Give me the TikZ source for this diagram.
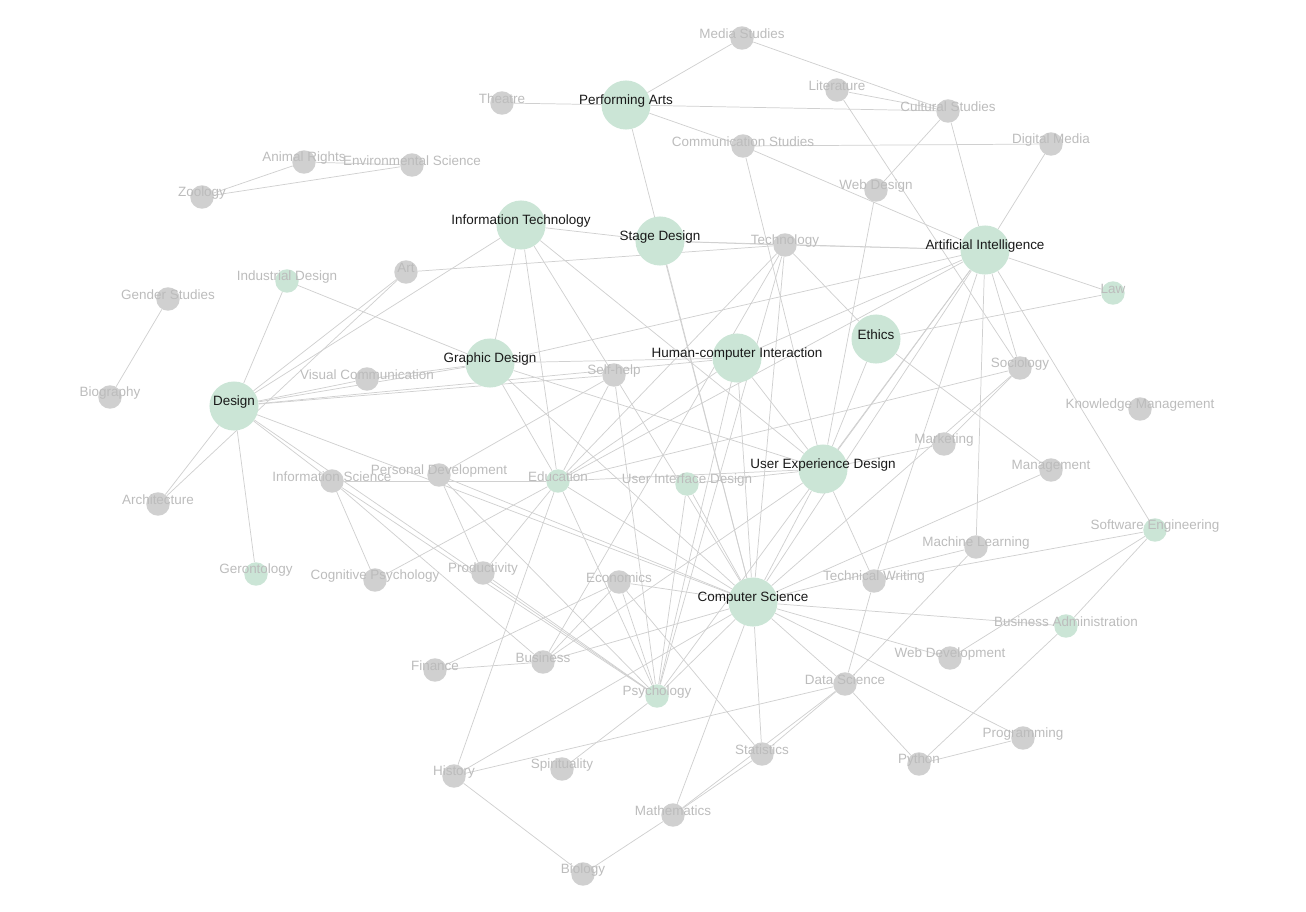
\documentclass[tikz,border=0pt]{standalone}
\usepackage{fontspec}
\setmainfont{Liberation Sans}
\definecolor{ngreen}{RGB}{203,229,214}
\definecolor{ngray}{RGB}{208,208,208}
\definecolor{labgray}{RGB}{188,188,188}
\definecolor{edgegray}{RGB}{208,208,208}
\pgfdeclarelayer{edgelayer}
\pgfsetlayers{edgelayer,main}
\tikzset{
  bign/.style={circle, fill=ngreen, minimum size=36.8pt, inner sep=0pt},
  smg/.style={circle, fill=ngreen, minimum size=17.6pt, inner sep=0pt},
  smy/.style={circle, fill=ngray, minimum size=17.6pt, inner sep=0pt},
  blab/.style={font=\fontsize{10.1}{12}\selectfont, text=black!90, inner sep=0pt},
  glab/.style={font=\fontsize{10.1}{12}\selectfont, text=labgray, inner sep=0pt},
  edge/.style={draw=edgegray, line width=0.55pt}
}
\begin{document}
\begin{tikzpicture}[x=0.75pt,y=-0.75pt]
\useasboundingbox (0,0) rectangle (1306,911);
% big green nodes
\node[bign] (pa) at (626,105) {};
\node[bign] (it) at (521,225) {};
\node[bign] (sd) at (660,241) {};
\node[bign] (ai) at (985,250) {};
\node[bign] (gd) at (490,363) {};
\node[bign] (hci) at (737,358) {};
\node[bign] (eth) at (876,339) {};
\node[bign] (des) at (234,406) {};
\node[bign] (uxd) at (823,469) {};
\node[bign] (cs) at (753,602) {};
% small green nodes
\node[smg] (ind) at (287,281) {};
\node[smg] (law) at (1113,293) {};
\node[smg] (edu) at (558,481) {};
\node[smg] (uid) at (687,484) {};
\node[smg] (se) at (1155,530) {};
\node[smg] (ger) at (256,574) {};
\node[smg] (ba) at (1066,626) {};
\node[smg] (psy) at (657,696) {};
% gray nodes
\node[smy] (med) at (742,38) {};
\node[smy] (the) at (502,103) {};
\node[smy] (lit) at (837,90) {};
\node[smy] (cul) at (948,111) {};
\node[smy] (com) at (743,146) {};
\node[smy] (dig) at (1051,144) {};
\node[smy] (ani) at (304,162) {};
\node[smy] (env) at (412,165) {};
\node[smy] (zoo) at (202,197) {};
\node[smy] (web) at (876,190) {};
\node[smy] (tec) at (785,245) {};
\node[smy] (art) at (406,272) {};
\node[smy] (gen) at (168,299) {};
\node[smy] (bgr) at (110,397) {};
\node[smy] (vis) at (367,379) {};
\node[smy] (shl) at (614,375) {};
\node[smy] (soc) at (1020,368) {};
\node[smy] (km) at (1140,409) {};
\node[smy] (mkt) at (944,444) {};
\node[smy] (isc) at (332,481) {};
\node[smy] (pd) at (439,475) {};
\node[smy] (mgt) at (1051,470) {};
\node[smy] (arc) at (158,504) {};
\node[smy] (ml) at (976,547) {};
\node[smy] (cog) at (375,580) {};
\node[smy] (pro) at (483,573) {};
\node[smy] (tw) at (874,581) {};
\node[smy] (eco) at (619,582) {};
\node[smy] (wd) at (950,658) {};
\node[smy] (fin) at (435,670) {};
\node[smy] (bus) at (543,662) {};
\node[smy] (ds) at (845,684) {};
\node[smy] (prg) at (1023,738) {};
\node[smy] (sta) at (762,754) {};
\node[smy] (pyt) at (919,764) {};
\node[smy] (his) at (454,776) {};
\node[smy] (spi) at (562,769) {};
\node[smy] (mat) at (673,815) {};
\node[smy] (bio) at (583,874) {};
% edges
\begin{pgfonlayer}{edgelayer}
\foreach \a/\b in {pa/the, pa/med, pa/cul, pa/com, pa/cs, sd/cs, sd/it, sd/tec, sd/ai,
  med/cul, lit/cul, lit/soc, cul/web, cul/ai, com/dig, com/ai, com/uxd, dig/ai, web/uxd,
  ani/zoo, ani/env, zoo/env, gen/bgr,
  tec/ai, art/tec, tec/edu, tec/bus, tec/psy, tec/cs, tec/eth,
  it/des, it/gd, it/edu, it/shl, it/uxd,
  des/ind, des/art, arc/art, des/arc, des/vis, des/gd, des/hci, des/shl, des/ger, des/isc, des/psy, des/cs,
  ind/gd, vis/gd, gd/ai, gd/hci, gd/uxd, gd/edu, gd/cs,
  hci/ai, hci/uxd, hci/cs, hci/psy, hci/edu,
  eth/uxd, eth/law, eth/mgt, law/ai,
  ai/uxd, ai/cs, ai/soc, ai/ml, ai/tw, ai/se, ai/edu, ai/psy,
  uxd/cs, uxd/mkt, uxd/tw, uxd/uid, edu/uxd, uxd/bus,
  soc/edu, soc/cs, soc/mkt, mgt/cs, ml/cs, ml/ds,
  se/tw, se/wd, se/ba, ba/cs, ba/pyt, wd/cs, prg/cs, prg/pyt,
  ds/cs, ds/tw, ds/pyt, ds/his, ds/mat, ds/sta,
  sta/cs, sta/mat, sta/eco, mat/cs, mat/bio, his/bio, his/edu, his/cs,
  spi/psy, psy/cs, psy/eco, psy/shl, psy/edu, psy/pro, psy/uid, psy/isc,
  eco/fin, eco/cs, eco/bus, fin/bus, bus/cs, bus/isc,
  pd/shl, pd/pro, pd/cs, pd/psy, shl/edu, shl/cs,
  edu/cog, edu/pro, edu/cs, isc/edu, isc/cog, uid/cs}
  \draw[edge] (\a) -- (\b);
\end{pgfonlayer}
% labels
\node[blab] (paL) at ([yshift=3pt]pa.center) {Performing Arts};
\node[blab] (itL) at ([yshift=3pt]it.center) {Information Technology};
\node[blab] (sdL) at ([yshift=3pt]sd.center) {Stage Design};
\node[blab] (aiL) at ([yshift=3pt]ai.center) {Artificial Intelligence};
\node[blab] (gdL) at ([yshift=3pt]gd.center) {Graphic Design};
\node[blab] (hciL) at ([yshift=3pt]hci.center) {Human-computer Interaction};
\node[blab] (ethL) at ([yshift=3pt]eth.center) {Ethics};
\node[blab] (desL) at ([yshift=3pt]des.center) {Design};
\node[blab] (uxdL) at ([yshift=3pt]uxd.center) {User Experience Design};
\node[blab] (csL) at ([yshift=3pt]cs.center) {Computer Science};
\node[glab] (indL) at ([yshift=3pt]ind.center) {Industrial Design};
\node[glab] (lawL) at ([yshift=3pt]law.center) {Law};
\node[glab] (eduL) at ([yshift=3pt]edu.center) {Education};
\node[glab] (uidL) at ([yshift=3pt]uid.center) {User Interface Design};
\node[glab] (seL) at ([yshift=3pt]se.center) {Software Engineering};
\node[glab] (gerL) at ([yshift=3pt]ger.center) {Gerontology};
\node[glab] (baL) at ([yshift=3pt]ba.center) {Business Administration};
\node[glab] (psyL) at ([yshift=3pt]psy.center) {Psychology};
\node[glab] (medL) at ([yshift=3pt]med.center) {Media Studies};
\node[glab] (theL) at ([yshift=3pt]the.center) {Theatre};
\node[glab] (litL) at ([yshift=3pt]lit.center) {Literature};
\node[glab] (culL) at ([yshift=3pt]cul.center) {Cultural Studies};
\node[glab] (comL) at ([yshift=3pt]com.center) {Communication Studies};
\node[glab] (digL) at ([yshift=3pt]dig.center) {Digital Media};
\node[glab] (aniL) at ([yshift=3pt]ani.center) {Animal Rights};
\node[glab] (envL) at ([yshift=3pt]env.center) {Environmental Science};
\node[glab] (zooL) at ([yshift=3pt]zoo.center) {Zoology};
\node[glab] (webL) at ([yshift=3pt]web.center) {Web Design};
\node[glab] (tecL) at ([yshift=3pt]tec.center) {Technology};
\node[glab] (artL) at ([yshift=3pt]art.center) {Art};
\node[glab] (genL) at ([yshift=3pt]gen.center) {Gender Studies};
\node[glab] (bgrL) at ([yshift=3pt]bgr.center) {Biography};
\node[glab] (visL) at ([yshift=3pt]vis.center) {Visual Communication};
\node[glab] (shlL) at ([yshift=3pt]shl.center) {Self-help};
\node[glab] (socL) at ([yshift=3pt]soc.center) {Sociology};
\node[glab] (kmL) at ([yshift=3pt]km.center) {Knowledge Management};
\node[glab] (mktL) at ([yshift=3pt]mkt.center) {Marketing};
\node[glab] (iscL) at ([yshift=3pt]isc.center) {Information Science};
\node[glab] (pdL) at ([yshift=3pt]pd.center) {Personal Development};
\node[glab] (mgtL) at ([yshift=3pt]mgt.center) {Management};
\node[glab] (arcL) at ([yshift=3pt]arc.center) {Architecture};
\node[glab] (mlL) at ([yshift=3pt]ml.center) {Machine Learning};
\node[glab] (cogL) at ([yshift=3pt]cog.center) {Cognitive Psychology};
\node[glab] (proL) at ([yshift=3pt]pro.center) {Productivity};
\node[glab] (twL) at ([yshift=3pt]tw.center) {Technical Writing};
\node[glab] (ecoL) at ([yshift=3pt]eco.center) {Economics};
\node[glab] (wdL) at ([yshift=3pt]wd.center) {Web Development};
\node[glab] (finL) at ([yshift=3pt]fin.center) {Finance};
\node[glab] (busL) at ([yshift=3pt]bus.center) {Business};
\node[glab] (dsL) at ([yshift=3pt]ds.center) {Data Science};
\node[glab] (prgL) at ([yshift=3pt]prg.center) {Programming};
\node[glab] (staL) at ([yshift=3pt]sta.center) {Statistics};
\node[glab] (pytL) at ([yshift=3pt]pyt.center) {Python};
\node[glab] (hisL) at ([yshift=3pt]his.center) {History};
\node[glab] (spiL) at ([yshift=3pt]spi.center) {Spirituality};
\node[glab] (matL) at ([yshift=3pt]mat.center) {Mathematics};
\node[glab] (bioL) at ([yshift=3pt]bio.center) {Biology};
\end{tikzpicture}
\end{document}
